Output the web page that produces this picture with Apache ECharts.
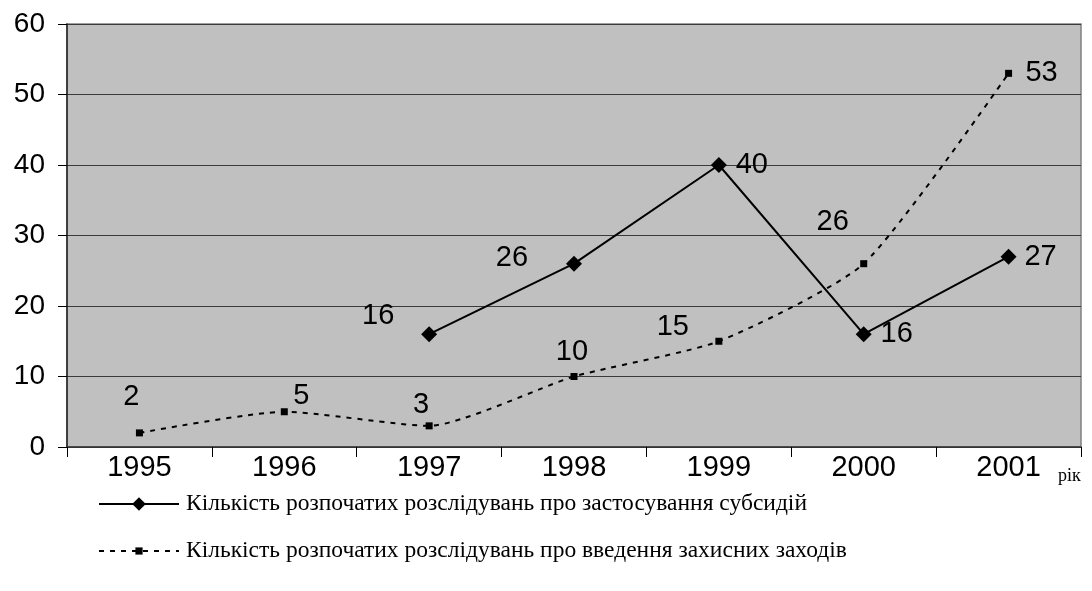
<!DOCTYPE html>
<html>
<head>
<meta charset="utf-8">
<script src="https://cdn.jsdelivr.net/npm/echarts@6/dist/echarts.min.js"></script>
<style>
  html, body { margin: 0; padding: 0; background: #fff; }
  #chart { width: 1092px; height: 591px; }
</style>
</head>
<body>
<div id="chart"></div>
<script>
// Роки та кількість розслідувань
const years = ['1995', '1996', '1997', '1998', '1999', '2000', '2001'];
const subsidyCases = [null, null, 16, 26, 40, 16, 27];
const safeguardCases = [2, 5, 3, 10, 15, 26, 53];
const yTicks = [0, 10, 20, 30, 40, 50, 60];

const subsidyName = 'Кількість розпочатих розслідувань про застосування субсидій';
const safeguardName = 'Кількість розпочатих розслідувань про введення захисних заходів';
const unitName = 'рік';

// Зсув підписів значень відносно маркерів (px)
const subsidyLabelShift = [null, null, [-51, -18], [-62, -6], [33, 0], [33, 0], [32, 0]];
const safeguardLabelShift = [[-8, -36], [17, -16], [-8, -21], [-2, -25], [-46, -14], [-31, -42], [33, 0]];

const sans = '"Liberation Sans", Arial, sans-serif';
const serif = '"Liberation Serif", "Times New Roman", serif';

function withLabels(values, shifts) {
  return values.map((v, i) => {
    if (v === null) return null;
    return {
      value: v,
      label: { show: true, position: 'inside', offset: shifts[i] }
    };
  });
}

function legendRow(name, top, iconHeight) {
  return {
    orient: 'horizontal',
    left: 93,
    top: top,
    itemWidth: 80,
    itemHeight: iconHeight,
    itemGap: 0,
    textStyle: { color: '#000', fontFamily: serif, fontSize: 23.5, padding: [0, 0, 0, 2] },
    data: [name]
  };
}

const chart = echarts.init(document.getElementById('chart'), null, { renderer: 'canvas' });

chart.setOption({
  animation: false,
  backgroundColor: '#ffffff',
  grid: {
    left: 67, right: 11, top: 24, bottom: 144,
    show: true,
    backgroundColor: '#c0c0c0',
    borderColor: '#808080',
    borderWidth: 1.5
  },
  xAxis: {
    type: 'category',
    data: years,
    boundaryGap: true,
    axisLine: { lineStyle: { color: '#333', width: 1.5 } },
    axisTick: { show: true, length: 10, interval: 0, lineStyle: { color: '#000', width: 1 } },
    axisLabel: { color: '#000', fontFamily: sans, fontSize: 29, margin: 6 },
    splitLine: { show: false }
  },
  yAxis: {
    type: 'value',
    min: yTicks[0],
    max: yTicks[yTicks.length - 1],
    interval: 10,
    axisLine: { show: true, lineStyle: { color: '#222', width: 1.5 } },
    axisTick: { show: true, length: 9, lineStyle: { color: '#000', width: 1 } },
    axisLabel: { color: '#000', fontFamily: sans, fontSize: 28, margin: 22 },
    splitLine: { show: true, lineStyle: { color: '#3a3a3a', width: 1 } }
  },
  legend: [legendRow(subsidyName, 487, 17), legendRow(safeguardName, 534, 9)],
  graphic: [{
    type: 'text',
    left: 1058,
    top: 467,
    style: { text: unitName, fill: '#000', font: '18px ' + serif }
  }],
  series: [
    {
      name: subsidyName,
      type: 'line',
      data: withLabels(subsidyCases, subsidyLabelShift),
      connectNulls: false,
      symbol: 'diamond',
      symbolSize: 16,
      showAllSymbol: true,
      itemStyle: { color: '#000' },
      lineStyle: { color: '#000', width: 2 },
      label: { color: '#000', fontFamily: sans, fontSize: 29 },
      z: 3
    },
    {
      name: safeguardName,
      type: 'line',
      data: withLabels(safeguardCases, safeguardLabelShift),
      smooth: 0.2,
      symbol: 'rect',
      symbolSize: 7,
      showAllSymbol: true,
      itemStyle: { color: '#000' },
      lineStyle: { color: '#000', width: 2, type: [5, 6] },
      label: { color: '#000', fontFamily: sans, fontSize: 29 },
      z: 2
    }
  ]
});
</script>
</body>
</html>
